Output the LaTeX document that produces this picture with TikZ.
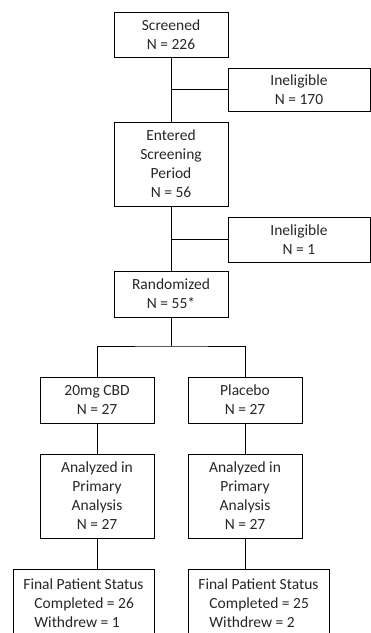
\documentclass[tikz,border=0pt]{standalone}
\usepackage{fontspec}
\setmainfont{Carlito}
\definecolor{txt}{HTML}{262626}
\begin{document}
\begin{tikzpicture}[x=1pt,y=-1pt,
  box/.style={draw=black, line width=1pt, rectangle, inner sep=0pt, align=center,
    text=txt, font=\fontsize{15.5}{19}\selectfont},
  conn/.style={draw=black, line width=1pt}]
\useasboundingbox (0,0) rectangle (371,633);
\clip (0,0) rectangle (371,633);
\node[box, minimum width=114, minimum height=45] (scr) at (171,34.5) {Screened\\N = 226};
\node[box, minimum width=142, minimum height=43] (inel1) at (299,89.5) {Ineligible\\N = 170};
\node[box, minimum width=114, minimum height=84] (ent) at (171,164) {Entered\\Screening\\Period\\N = 56};
\node[box, minimum width=142, minimum height=45] (inel2) at (299,239.5) {Ineligible\\N = 1};
\node[box, minimum width=114, minimum height=46] (rand) at (171,294) {Randomized\\N = 55*};
\node[box, minimum width=114, minimum height=46] (cbd) at (97,400) {20mg CBD\\N = 27};
\node[box, minimum width=114, minimum height=46] (plc) at (245,400) {Placebo\\N = 27};
\node[box, minimum width=114, minimum height=84] (ana1) at (97,496) {Analyzed in\\Primary\\Analysis\\N = 27};
\node[box, minimum width=114, minimum height=84] (ana2) at (245,496) {Analyzed in\\Primary\\Analysis\\N = 27};
\node[box, align=left, minimum width=141, minimum height=68] (fin1) at (83.5,603)
  {Final Patient Status\\\hspace*{11pt}Completed = 26\\\hspace*{11pt}Withdrew = 1};
\node[box, align=left, minimum width=141, minimum height=68] (fin2) at (258.5,603)
  {Final Patient Status\\\hspace*{11pt}Completed = 25\\\hspace*{11pt}Withdrew = 2};
\coordinate (split) at (171,346);
\draw[conn] (scr) -- (ent);
\draw[conn] (scr.south |- inel1.west) -- (inel1.west);
\draw[conn] (ent) -- (rand);
\draw[conn] (ent.south |- inel2.west) -- (inel2.west);
\draw[conn] (rand) -- (split);
\draw[conn] (cbd.north) |- (split) -| (plc.north);
\draw[conn] (cbd) -- (ana1);
\draw[conn] (plc) -- (ana2);
\draw[conn] (ana1.south) -- (ana1.south |- fin1.north);
\draw[conn] (ana2.south) -- (ana2.south |- fin2.north);
\end{tikzpicture}
\end{document}
